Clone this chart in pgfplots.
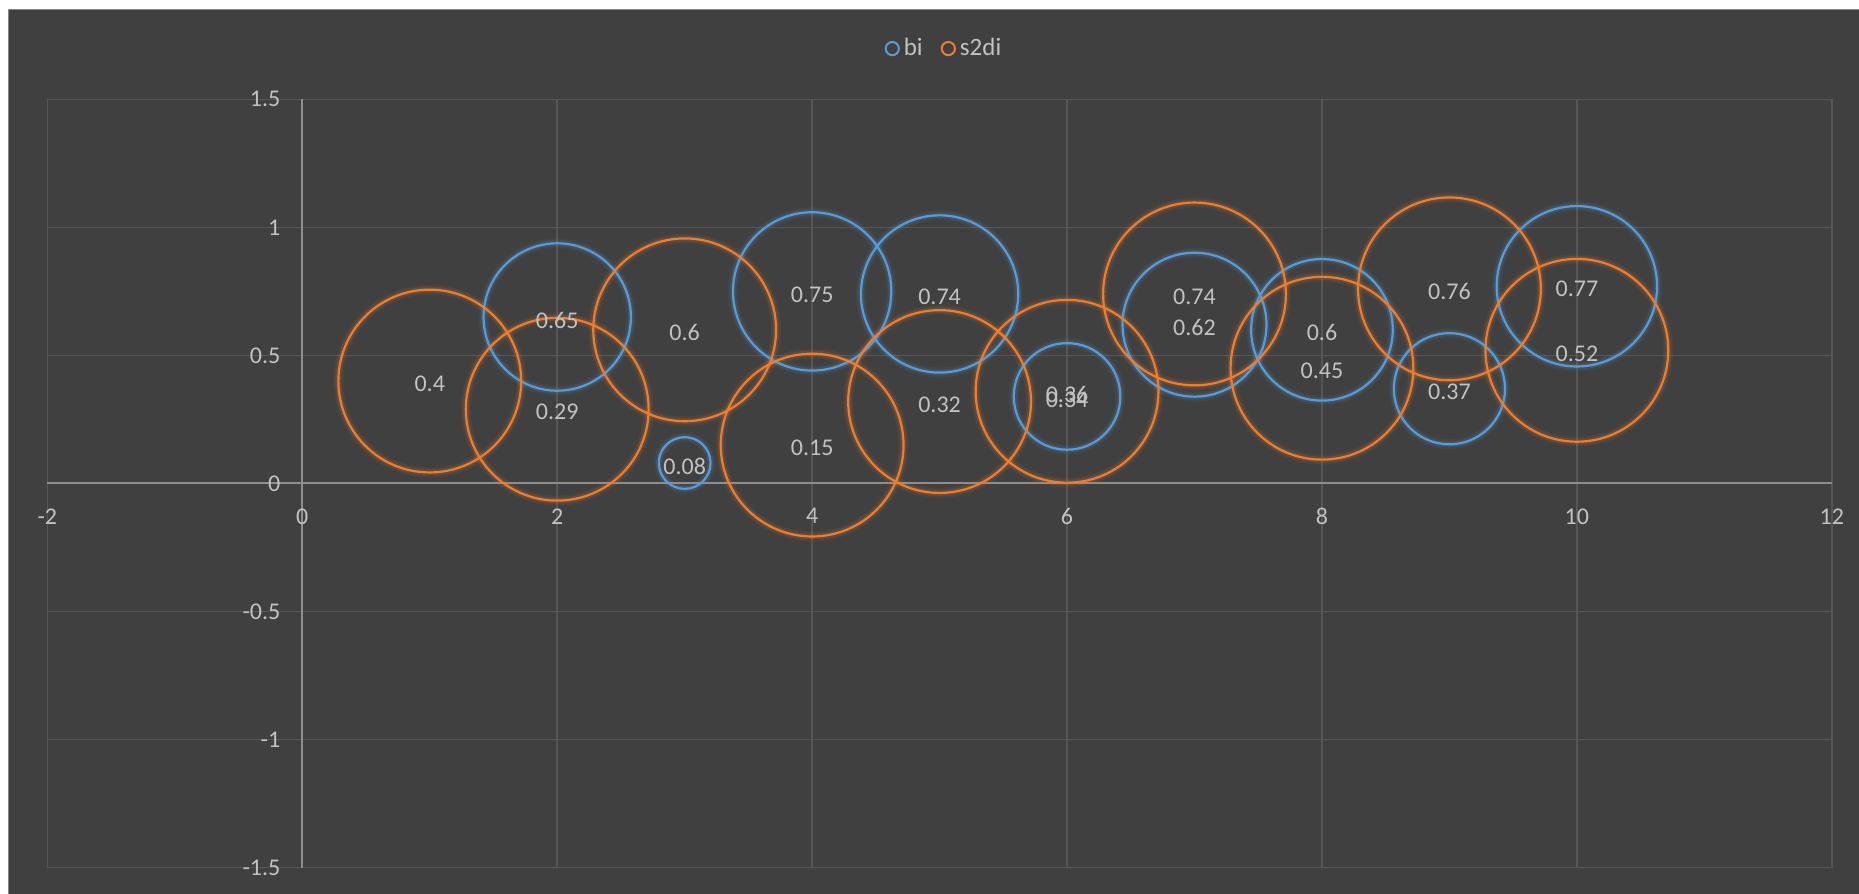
\documentclass[border=0pt]{standalone}
\usepackage{pgfplots}
\usepackage{pgfplotstable}
\usepackage{fontspec}
\setmainfont{Carlito}
\pgfplotsset{compat=1.18}

\definecolor{chartbg}{HTML}{404040}
\definecolor{gridgray}{HTML}{565656}
\definecolor{axisgray}{HTML}{8E8E8E}
\definecolor{labelgray}{HTML}{C2C2C2}
\definecolor{framegray}{HTML}{868686}
\definecolor{bubbleblue}{HTML}{5B9BD5}
\definecolor{bubbleorange}{HTML}{ED7D31}

% x, y and bubble size of each series
\pgfplotstableread{
x  y    s
2  0.65 0.65
3  0.08 0.08
4  0.75 0.75
5  0.74 0.74
6  0.34 0.34
7  0.62 0.62
8  0.60 0.60
9  0.37 0.37
10 0.77 0.77
}\bidata

\pgfplotstableread{
x  y    s
1  0.40 1
2  0.29 1
3  0.60 1
4  0.15 1
5  0.32 1
6  0.36 1
7  0.74 1
8  0.45 1
9  0.76 1
10 0.52 1
}\sdidata

\pgfplotsset{
  bubble/.style={
    only marks, mark=o, scatter, point meta=y,
    scatter/use mapped color={draw=#1},
    visualization depends on={45.7*sqrt(\thisrow{s}) \as \rad},
    scatter/@pre marker code/.append style={/tikz/mark size=\rad pt},
  },
  glow/.style={bubble=#1, forget plot},
  % value labels centred on each bubble
  labels/.style={
    forget plot, only marks, mark=none, point meta=y,
    nodes near coords={\pgfmathprintnumber[fixed,precision=2,assume math mode=true]{\pgfplotspointmeta}},
    every node near coord/.append style={anchor=center, yshift=-1.5pt,
      text=labelgray, font=\fontsize{12}{14}\selectfont},
  },
}

\begin{document}
\begin{tikzpicture}
  % chart area
  \fill[white] (0,0) rectangle (929.5pt,447pt);
  \fill[chartbg] (4.35pt,0) rectangle (929.5pt,442.1pt);
  \draw[framegray, line width=0.7pt] (4.35pt,0) -- (4.35pt,442.1pt) -- (929.5pt,442.1pt);

  \begin{axis}[
    at={(23.7pt,13.15pt)}, anchor=south west,
    scale only axis, width=892.2pt, height=384.2pt,
    xmin=-2, xmax=12, ymin=-1.5, ymax=1.5,
    axis lines=middle,
    axis line style={-, draw=axisgray, line width=1pt},
    hide obscured x ticks=false, hide obscured y ticks=false,
    xtick={-2,0,2,4,6,8,10,12},
    xticklabels={-2,0,2,4,6,8,10,12},
    ytick={-1.5,-1,-0.5,0,0.5,1,1.5},
    yticklabels={-1.5,-1,-0.5,0,0.5,1,1.5},
    major tick length=0pt,
    grid=major,
    grid style={draw=gridgray, line width=0.75pt},
    ticklabel style={font=\fontsize{12}{14}\selectfont, text=labelgray},
    xticklabel style={anchor=north, yshift=-9pt},
    yticklabel style={anchor=east, xshift=-7.5pt},
    clip=false,
    legend columns=-1,
    legend style={draw=none, fill=none, text=labelgray,
      font=\fontsize{12.5}{15}\selectfont,
      at={(0.503,1.066)}, anchor=center,
      /tikz/every even column/.append style={column sep=7pt}},
  ]
    % soft halo behind the rings
    \addplot[glow=bubbleblue, line width=5pt, opacity=0.07] table {\bidata};
    \addplot[glow=bubbleblue, line width=3pt, opacity=0.14] table {\bidata};
    \addplot[glow=bubbleorange, line width=5pt, opacity=0.07] table {\sdidata};
    \addplot[glow=bubbleorange, line width=3pt, opacity=0.14] table {\sdidata};

    % the rings
    \addplot[bubble=bubbleblue, line width=1.1pt,
      legend image code/.code={\draw[bubbleblue, line width=1pt] (3.5pt,0) circle (3.3pt);}]
      table {\bidata};
    \addlegendentry{bi}
    \addplot[bubble=bubbleorange, line width=1.1pt,
      legend image code/.code={\draw[bubbleorange, line width=1pt] (3.5pt,0) circle (3.3pt);}]
      table {\sdidata};
    \addlegendentry{s2di}

    \addplot[labels] table {\bidata};
    \addplot[labels] table {\sdidata};
  \end{axis}

  \pgfresetboundingbox
  \path[use as bounding box] (0,0) rectangle (929.5pt,447pt);
\end{tikzpicture}
\end{document}
